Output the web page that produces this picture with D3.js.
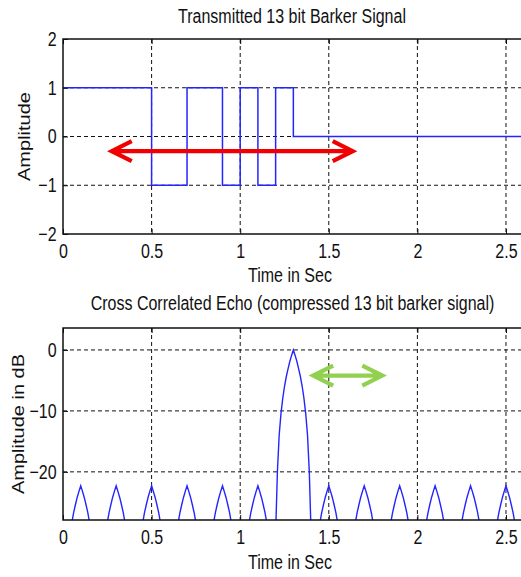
<!DOCTYPE html>
<html>
<head>
<meta charset="utf-8">
<script src="https://cdn.jsdelivr.net/npm/d3@7/dist/d3.min.js"></script>
<style>
  html, body { margin: 0; padding: 0; background: #fff; }
  svg { display: block; }
  text { font-family: "Liberation Sans", Arial, Helvetica, sans-serif; font-size: 20px; fill: #111; }
</style>
</head>
<body>
<svg id="chart" width="521" height="577"></svg>
<script>
// ---- Transmitted 13-bit Barker code (bit edges in seconds, level of each bit run) ----
const bitEdges  = [0, 0.5, 0.7, 0.9, 1.0, 1.1, 1.2, 1.3, 2.6];
const bitLevels = [1, -1, 1, -1, 1, -1, 1, 0];

// ---- Compressed echo (dB) ----
// sidelobe peaks and the shape of one sidelobe around its peak
const sidelobeCentres = [0.1, 0.3, 0.5, 0.7, 0.9, 1.1, 1.5, 1.7, 1.9, 2.1, 2.3, 2.5];
const sidelobeOffsets = [-0.048, -0.04, -0.03, -0.02, -0.01, 0, 0.01, 0.02, 0.03, 0.04, 0.048];
const sidelobeDb      = [-28, -26.7, -25.4, -24.2, -23.2, -22.3, -23.2, -24.2, -25.4, -26.7, -28];
// main lobe
const mainLobeTime = [1.202, 1.21, 1.22, 1.23, 1.24, 1.25, 1.26, 1.27, 1.28, 1.29, 1.30,
                      1.31, 1.32, 1.33, 1.34, 1.35, 1.36, 1.37, 1.38, 1.39, 1.398];
const mainLobeDb   = [-28, -20, -14, -10.5, -8, -6, -4.4, -3.1, -1.9, -0.9, 0,
                      -0.9, -1.9, -3.1, -4.4, -6, -8, -10.5, -14, -20, -28];

// ---- Axis ticks ----
const timeTicks = [0, 0.5, 1, 1.5, 2, 2.5];
const ampTicks  = [-2, -1, 0, 1, 2];
const dbTicks   = [-20, -10, 0];

// ---- Annotation arrows (data coordinates) ----
const redArrow   = { t0: 0.275, t1: 1.635, level: -0.3 };
const greenArrow = { t0: 1.412, t1: 1.802, level: -4.2 };

const svg = d3.select("#chart");
const SX = 0.8; // horizontal squeeze applied to all text

function label(x, y, txt, anchor, rotate) {
  svg.append("text")
    .attr("transform", `translate(${x},${y}) scale(${SX},1)` + (rotate ? " rotate(-90)" : ""))
    .attr("text-anchor", anchor)
    .text(txt);
}

function drawPanel(opts) {
  const { x, y, yTicks, clipId } = opts;
  const [x0, x1] = x.range();
  const [yb, yt] = y.range();
  const g = svg.append("g");

  // dashed grid
  g.selectAll(".vg").data(timeTicks.filter(d => d > 0)).join("line")
    .attr("x1", d => x(d)).attr("x2", d => x(d))
    .attr("y1", yt).attr("y2", yb)
    .attr("stroke", "#111").attr("stroke-width", 1).attr("stroke-dasharray", "4,3");
  g.selectAll(".hg").data(yTicks.filter(d => y(d) > yt + 1 && y(d) < yb - 1)).join("line")
    .attr("x1", x0).attr("x2", x1)
    .attr("y1", d => y(d)).attr("y2", d => y(d))
    .attr("stroke", "#111").attr("stroke-width", 1).attr("stroke-dasharray", "4,3");

  svg.append("clipPath").attr("id", clipId)
    .append("rect").attr("x", x0).attr("y", yt).attr("width", x1 - x0).attr("height", yb - yt);

  const data = g.append("g").attr("clip-path", `url(#${clipId})`);

  // axes
  const xAxis = g.append("g").attr("transform", `translate(0,${yb})`)
    .call(d3.axisBottom(x).tickValues(timeTicks).tickSize(-5).tickPadding(10).tickFormat(d3.format("")));
  g.append("g").attr("transform", `translate(0,${yt})`)
    .call(d3.axisTop(x).tickValues(timeTicks).tickSize(-5).tickFormat(""));
  const yAxis = g.append("g").attr("transform", `translate(${x0},0)`)
    .call(d3.axisLeft(y).tickValues(yTicks).tickSize(-5).tickPadding(8).tickFormat(d3.format("")));
  [xAxis, yAxis].forEach(a => {
    a.select(".domain").remove();
    a.selectAll("text").attr("transform", `scale(${SX},1)`).style("font-size", "20px").attr("fill", "#111");
    a.selectAll("line").attr("stroke", "#111");
  });
  g.selectAll(".domain").remove();

  // box (left, top, bottom)
  g.append("path")
    .attr("d", `M${x1 + 5},${yt}H${x0}V${yb}H${x1 + 5}`)
    .attr("fill", "none").attr("stroke", "#111").attr("stroke-width", 1.5);

  return data;
}

function arrow(x0, x1, yy, colour) {
  const head = 20, spread = 10;
  const p = `M${x0 + head},${yy - spread}L${x0},${yy}L${x0 + head},${yy + spread}` +
            `M${x0},${yy}H${x1}` +
            `M${x1 - head},${yy - spread}L${x1},${yy}L${x1 - head},${yy + spread}`;
  svg.append("path").attr("d", p).attr("fill", "none").attr("stroke", colour)
    .attr("stroke-width", 4.2).attr("stroke-linejoin", "miter").attr("stroke-linecap", "butt");
}

// ================= Top panel =================
const xTop = d3.scaleLinear().domain([0, 2.6]).range([63, 523.7]);
const yTop = d3.scaleLinear().domain([-2, 2]).range([234, 39]);
const topData = drawPanel({ x: xTop, y: yTop, yTicks: ampTicks, clipId: "clipTop" });

const stepPts = bitLevels.map((v, i) => [bitEdges[i], v]);
stepPts.push([bitEdges[bitEdges.length - 1], bitLevels[bitLevels.length - 1]]);
topData.append("path")
  .datum(stepPts)
  .attr("d", d3.line().x(d => xTop(d[0])).y(d => yTop(d[1])).curve(d3.curveStepAfter))
  .attr("fill", "none").attr("stroke", "#2424ff").attr("stroke-width", 1.5);

label(292, 23, "Transmitted 13 bit Barker Signal", "middle");
label(290, 282, "Time in Sec", "middle");
label(30, 136.5, "Amplitude", "middle", true);

arrow(xTop(redArrow.t0), xTop(redArrow.t1), yTop(redArrow.level), "#f00000");

// ================= Bottom panel =================
const xBot = d3.scaleLinear().domain([0, 2.6]).range([63, 523.7]);
const yBot = d3.scaleLinear().domain([-27.9, 3.6]).range([520, 328]);
const botData = drawPanel({ x: xBot, y: yBot, yTicks: dbTicks, clipId: "clipBot" });

// assemble the echo trace in time order
const lobes = sidelobeCentres.map(c => sidelobeOffsets.map((o, i) => [c + o, sidelobeDb[i]]));
lobes.push(mainLobeTime.map((t, i) => [t, mainLobeDb[i]]));
lobes.sort((a, b) => a[0][0] - b[0][0]);
const echo = [[0, -28]].concat(...lobes).concat([[2.6, -28]]);

botData.append("path")
  .datum(echo)
  .attr("d", d3.line().x(d => xBot(d[0])).y(d => yBot(d[1])))
  .attr("fill", "none").attr("stroke", "#2424ff").attr("stroke-width", 1.4);

label(292.5, 310, "Cross Correlated Echo (compressed 13 bit barker signal)", "middle");
label(290, 569, "Time in Sec", "middle");
label(24, 424, "Amplitude in dB", "middle", true);

arrow(xBot(greenArrow.t0), xBot(greenArrow.t1), yBot(greenArrow.level), "#92d050");
</script>
</body>
</html>
